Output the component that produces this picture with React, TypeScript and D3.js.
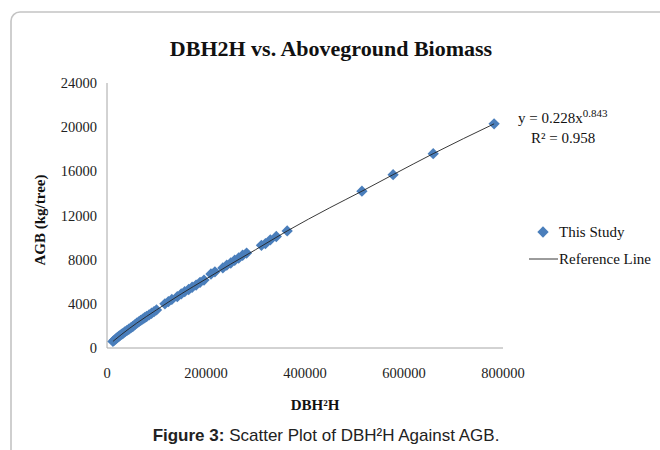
import React from 'react';
import * as d3 from 'd3';

// DBH2H (cm2 m) and AGB (kg/tree)
const dbh2h = [
  12000, 15000, 18000, 21000, 24000, 27000, 30000, 33000, 36000, 40000,
  44000, 48000, 52000, 56000, 60000, 64000, 68000, 72000, 76000, 80000,
  85000, 90000, 95000, 100000,
  117000, 124000, 131000,
  142000, 150000, 157000, 165000, 172000, 180000, 188000, 196000,
  210000, 218000,
  234000, 242000, 250000, 258000, 266000, 274000, 282000,
  312000, 320000, 330000, 342000, 364000,
  515000, 578000, 659000, 782000,
];
const agb = [
  600, 720, 830, 950, 1060, 1160, 1250, 1350, 1460, 1580,
  1700, 1830, 1950, 2100, 2250, 2370, 2500, 2620, 2740, 2850,
  3000, 3150, 3290, 3450,
  4000, 4200, 4400,
  4650, 4900, 5100, 5300, 5500, 5700, 5950, 6150,
  6700, 6900,
  7250, 7500, 7700, 7950, 8150, 8400, 8600,
  9300, 9450, 9800, 10100, 10600,
  14200, 15700, 17600, 20300,
];

// reference line as drawn in the chart
const refX = [12000, 30000, 60000, 100000, 150000, 200000, 250000, 300000, 364000, 450000, 515000, 578000, 659000, 782000];
const refY = [600, 1250, 2250, 3450, 4900, 6250, 7600, 8900, 10600, 12700, 14200, 15700, 17600, 20300];

const xTicks = [0, 200000, 400000, 600000, 800000];
const yTicks = [0, 4000, 8000, 12000, 16000, 20000, 24000];

const serif = '"Liberation Serif", "Times New Roman", serif';
const sans = '"Liberation Sans", Arial, sans-serif';
const blue = '#4a7ebb';

export default function App() {
  const x = d3.scaleLinear().domain([0, 800000]).range([107, 503]);
  const y = d3.scaleLinear().domain([0, 24000]).range([348, 83]);

  const diamond = d3.symbol().type(d3.symbolSquare).size(64)() as string;

  const line = d3.line<number>()
    .curve(d3.curveMonotoneX)
    .x((d) => x(d))
    .y((_, i) => y(refY[i]));

  return (
    <svg width={660} height={450} style={{ position: 'absolute', left: 0, top: 0, background: '#fff' }}>
      {/* frame */}
      <rect x={11} y={12} width={720} height={520} rx={9} fill="none" stroke="#c4c4c4" strokeWidth={1.6} />

      {/* title */}
      <text x={331} y={56} textAnchor="middle" fontFamily={serif} fontWeight="bold" fontSize={22} fill="#111">
        DBH2H vs. Aboveground Biomass
      </text>

      {/* axes */}
      <line x1={x(0)} x2={x(0)} y1={y(24000)} y2={y(0)} stroke="#a6a6a6" strokeWidth={1} />
      <line x1={x(0)} x2={x(800000)} y1={y(0)} y2={y(0)} stroke="#a6a6a6" strokeWidth={1} />

      {yTicks.map((t) => (
        <text key={t} x={97} y={y(t)} dy="0.35em" textAnchor="end" fontFamily={serif} fontSize={14.5} fill="#222">
          {t}
        </text>
      ))}
      {xTicks.map((t) => (
        <text key={t} x={x(t)} y={373} dy="0.35em" textAnchor="middle" fontFamily={serif} fontSize={14.5} fill="#222">
          {t}
        </text>
      ))}

      <text transform="translate(45,220) rotate(-90)" textAnchor="middle" fontFamily={serif} fontWeight="bold" fontSize={15} fill="#111">
        AGB (kg/tree)
      </text>
      <text x={315} y={410} textAnchor="middle" fontFamily={serif} fontWeight="bold" fontSize={15} fill="#111">
        DBH²H
      </text>

      {/* points */}
      {dbh2h.map((d, i) => (
        <path key={i} d={diamond} transform={`translate(${x(d)},${y(agb[i])}) rotate(45)`} fill={blue} />
      ))}

      {/* reference line */}
      <path d={line(refX) as string} fill="none" stroke="#222" strokeWidth={0.9} />

      {/* equation */}
      <text x={518} y={123} fontFamily={serif} fontSize={15} fill="#111">
        y = 0.228x<tspan fontSize={11} dy={-6}>0.843</tspan>
      </text>
      <text x={531} y={143} fontFamily={serif} fontSize={15} fill="#111">
        R² = 0.958
      </text>

      {/* legend */}
      <path d={diamond} transform="translate(543,232) rotate(45)" fill={blue} />
      <text x={559} y={232} dy="0.35em" fontFamily={serif} fontSize={15} fill="#111">This Study</text>
      <line x1={529} x2={558} y1={259} y2={259} stroke="#222" strokeWidth={0.9} />
      <text x={559} y={259} dy="0.35em" fontFamily={serif} fontSize={15} fill="#111">Reference Line</text>

      {/* caption */}
      <text x={326} y={441} textAnchor="middle" fontFamily={sans} fontSize={17} fill="#222">
        <tspan fontWeight="bold">Figure 3:</tspan> Scatter Plot of DBH²H Against AGB.
      </text>
    </svg>
  );
}
